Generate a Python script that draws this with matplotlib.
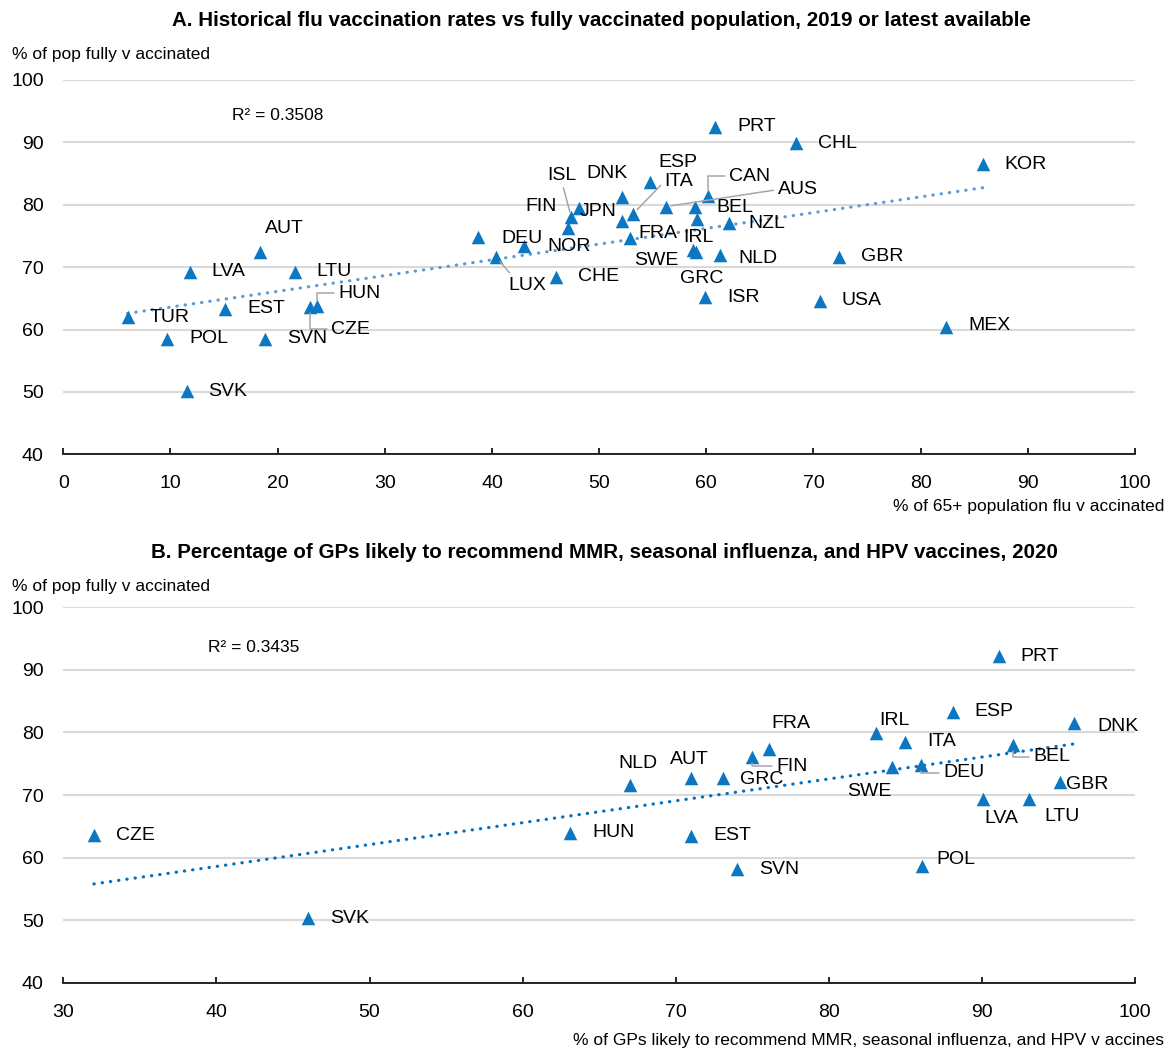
import matplotlib
matplotlib.use("Agg")
import matplotlib.pyplot as plt
import numpy as np
from matplotlib import font_manager as fm


def pick_font(names):
    for n in names:
        try:
            fm.findfont(fm.FontProperties(family=n), fallback_to_default=False)
            return n
        except ValueError:
            pass
    return "DejaVu Sans"


FONT = pick_font(["Liberation Sans", "Arial"])
plt.rcParams["font.family"] = [FONT, "DejaVu Sans"]

# --- Panel A: flu vaccination 65+ (x) vs fully vaccinated population (y)
a_countries = ["PRT", "CHL", "KOR", "MEX", "GBR", "USA", "ISR", "NLD", "NZL",
               "GRC", "SWE", "IRL", "BEL", "CAN", "AUS", "ITA", "ESP", "DNK",
               "ISL", "FIN", "JPN", "", "DEU", "NOR", "FRA", "LUX", "CHE",
               "AUT", "LVA", "LTU", "TUR", "EST", "HUN", "CZE", "POL", "SVN",
               "SVK"]
a_flu = [60.8, 68.4, 85.8, 82.4, 72.4, 70.6, 59.9, 61.3, 62.1,
         59.0, 58.8, 59.1, 58.9, 60.2, 56.2, 53.2, 54.7, 52.1,
         47.4, 48.1, 52.1, 47.1, 38.7, 43.0, 52.9, 40.4, 46.0,
         18.4, 11.8, 21.6, 6.0, 15.1, 23.7, 23.0, 9.7, 18.8,
         11.5]
a_full = [92.5, 89.9, 86.5, 60.4, 71.7, 64.6, 65.2, 71.9, 77.0,
          72.5, 72.7, 77.7, 79.6, 81.4, 79.7, 78.6, 83.6, 81.3,
          78.0, 79.5, 77.4, 76.3, 74.8, 73.4, 74.6, 71.6, 68.5,
          72.5, 69.3, 69.3, 62.0, 63.3, 63.7, 63.6, 58.5, 58.5,
          50.1]
a_r2 = "R² = 0.3508"

# --- Panel B: GPs likely to recommend vaccines (x) vs fully vaccinated (y)
b_countries = ["CZE", "SVK", "HUN", "NLD", "AUT", "GRC", "EST", "SVN", "FIN",
               "FRA", "PRT", "ESP", "DNK", "IRL", "ITA", "BEL", "SWE", "DEU",
               "GBR", "LVA", "LTU", "POL"]
b_gps = [32.0, 46.0, 63.1, 67.0, 71.0, 73.1, 71.0, 74.0, 75.0,
         76.1, 91.1, 88.1, 96.0, 83.1, 85.0, 92.0, 84.1, 86.0,
         95.1, 90.1, 93.1, 86.1]
b_full = [63.6, 50.3, 64.0, 71.6, 72.7, 72.7, 63.5, 58.1, 76.0,
          77.3, 92.2, 83.3, 81.5, 79.9, 78.5, 78.0, 74.5, 74.8,
          72.0, 69.3, 69.3, 58.7]
b_r2 = "R² = 0.3435"

# label placement: (dx px, dy px up, ha, leader)  default = right of marker
A_LABELS = {
    "MEX": (22, 2, "left", None), "NLD": (18, -3, "left", None),
    "NZL": (20, 0, "left", None), "GRC": (6, -27, "center", None),
    "SWE": (-15, -10, "right", None), "IRL": (2, -18, "center", None),
    "CAN": (21, 20, "left", "angle"), "AUS": (112, 17, "left", "line"),
    "ITA": (31, 32, "left", "line"), "ESP": (9, 20, "left", None),
    "DNK": (-15, 23, "center", None), "ISL": (-9, 42, "center", "line"),
    "FIN": (-22, 1, "right", None), "JPN": (-5, 9, "right", None),
    "DEU": (23, -1, "left", None), "NOR": (23, -1, "left", None),
    "FRA": (8, 5, "left", None), "LUX": (31, -28, "center", "line"),
    "AUT": (4, 23, "left", None), "HUN": (21, 13, "left", "angle"),
    "CZE": (21, -22, "left", "angle"),
}
B_LABELS = {
    "NLD": (8, 21, "center", None), "AUT": (-2, 19, "center", None),
    "GRC": (17, -1, "left", None), "FIN": (24, -9, "left", "angle"),
    "FRA": (22, 26, "center", None), "DNK": (24, -3, "left", None),
    "IRL": (3, 13, "left", None), "BEL": (21, -12, "left", "angle"),
    "DEU": (23, -8, "left", "angle"), "SWE": (-22, -25, "center", None),
    "GBR": (6, -2, "left", None), "LVA": (18, -19, "center", None),
    "LTU": (15, -17, "left", None), "POL": (14, 6, "left", None),
}

MARKER = "#0B76C2"
W, H = 1176, 1053


def fx(px):
    return px / W


def fy(py):
    return 1 - py / H


def draw_panel(ax, xs, ys, names, labels, trend_color, xlim, r2, r2_pos):
    ax.set_xlim(*xlim)
    ax.set_ylim(40, 100)
    ax.set_yticks(np.arange(40, 101, 10))
    ax.set_xticks(np.arange(xlim[0], xlim[1] + 1, 10))
    ax.set_axisbelow(True)
    ax.grid(axis="y", color="#D9D9D9", linewidth=1.5)
    for s in ["top", "right", "left"]:
        ax.spines[s].set_visible(False)
    ax.spines["bottom"].set_color("black")
    ax.spines["bottom"].set_linewidth(1.2)
    ax.tick_params(axis="y", length=0, pad=14, labelsize=14)
    ax.tick_params(axis="x", direction="in", length=4, width=1.2,
                   pad=15, labelsize=14)

    x = np.array(xs)
    y = np.array(ys)
    # linear trend line
    k, b = np.polyfit(x, y, 1)
    xx = np.array([x.min(), x.max()])
    ax.plot(xx, k * xx + b, color=trend_color, linewidth=2.3,
            linestyle=(0, (0.1, 2.5)), dash_capstyle="round", zorder=2)

    ax.scatter(x, y, marker="^", s=95, color=MARKER, linewidths=0, zorder=3)

    for name, xv, yv in zip(names, xs, ys):
        if not name:
            continue
        dx, dy, ha, leader = labels.get(name, (22, 0, "left", None))
        kw = {}
        if leader == "angle":
            kw["arrowprops"] = dict(arrowstyle="-", color="#A6A6A6", lw=1.1,
                                    shrinkA=1, shrinkB=4,
                                    connectionstyle="angle,angleA=0,angleB=90,rad=0",
                                    relpos=(0, 0.5))
        elif leader == "line":
            kw["arrowprops"] = dict(arrowstyle="-", color="#A6A6A6", lw=1.1,
                                    shrinkA=1, shrinkB=4,
                                    relpos=(0, 0.5) if ha == "left" else (0.5, 0))
        ax.annotate(name, (xv, yv), xytext=(dx, dy), textcoords="offset pixels",
                    ha=ha, va="center", fontsize=14, color="black",
                    zorder=4, **kw)

    ax.text(r2_pos[0], r2_pos[1], r2, transform=ax.figure.transFigure,
            fontsize=12.5, ha="left", va="center")


fig = plt.figure(figsize=(W / 100, H / 100), dpi=100)

ax_a = fig.add_axes([fx(63.3), fy(454.3), fx(1135 - 63.3), (454.3 - 80) / H])
draw_panel(ax_a, a_flu, a_full, a_countries, A_LABELS, "#5B9BD5", (0, 100),
           a_r2, (fx(232), fy(116)))

ax_b = fig.add_axes([fx(63.3), fy(982.7), fx(1135 - 63.3), (982.7 - 607.3) / H])
draw_panel(ax_b, b_gps, b_full, b_countries, B_LABELS, "#0070C0", (30, 100),
           b_r2, (fx(208), fy(647)))

fig.text(fx(601), fy(20),
         "A. Historical flu vaccination rates vs fully vaccinated population, 2019 or latest available",
         ha="center", va="center", fontsize=14.8, fontweight="bold")
fig.text(fx(604), fy(553),
         "B. Percentage of GPs likely to recommend MMR, seasonal influenza, and HPV vaccines, 2020",
         ha="center", va="center", fontsize=14.8, fontweight="bold")

fig.text(fx(12), fy(55), "% of pop fully v accinated", ha="left", va="center", fontsize=12.5)
fig.text(fx(12), fy(586), "% of pop fully v accinated", ha="left", va="center", fontsize=12.5)
fig.text(fx(1164), fy(507), "% of 65+ population flu v accinated",
         ha="right", va="center", fontsize=12.5)
fig.text(fx(1164), fy(1040),
         "% of GPs likely to recommend MMR, seasonal influenza, and HPV v accines",
         ha="right", va="center", fontsize=12.5)

fig.savefig("out.png", dpi=100, facecolor="white")
